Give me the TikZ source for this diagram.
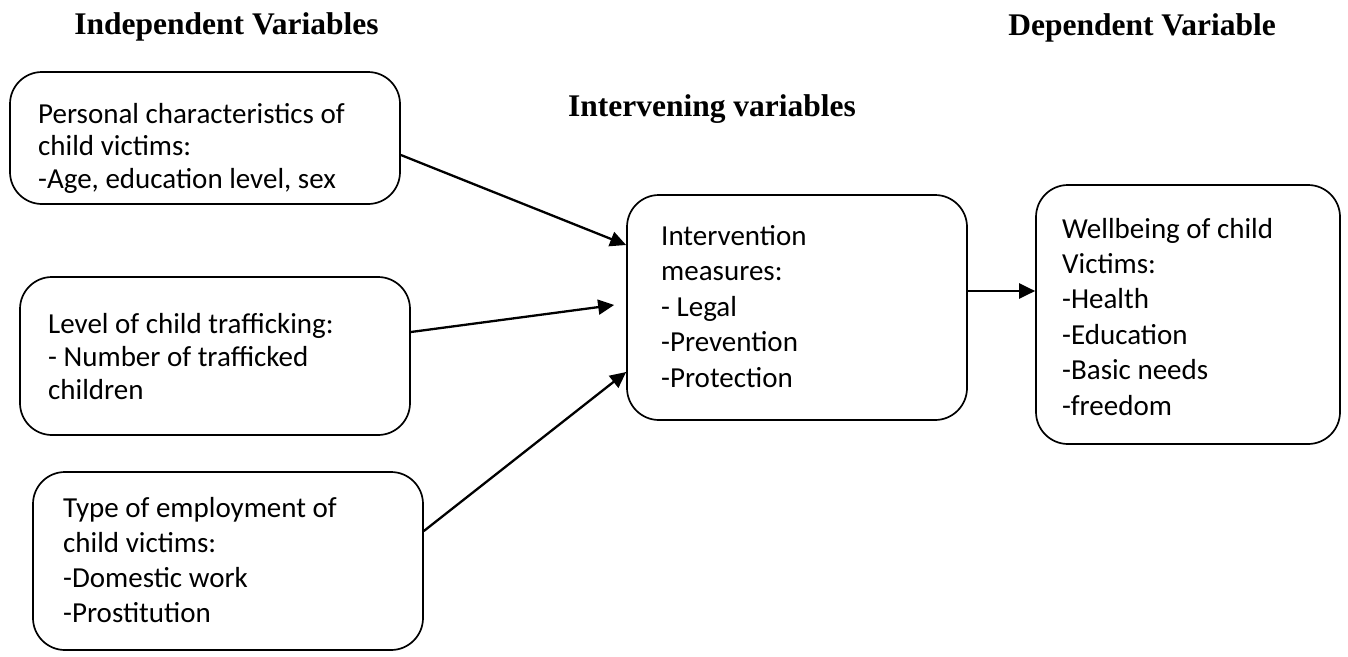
\documentclass[tikz,border=0pt]{standalone}
\usepackage{fontspec}
\setmainfont{Carlito}
\newfontfamily\headfont{Liberation Serif}
\usetikzlibrary{arrows.meta}
\begin{document}
\begin{tikzpicture}[x=1pt,y=-1pt,
  box/.style={draw=black,line width=1.7pt,rounded corners=32pt,inner sep=0pt},
  body/.style={anchor=base west,inner sep=0pt,align=left,font=\fontsize{29}{#1}\selectfont},
  body/.default=34.5,
  head/.style={anchor=base,inner sep=0pt,font=\headfont\bfseries\fontsize{31.5}{36}\selectfont},
  conn/.style={line width=2.3pt,-{Triangle[length=16pt,width=15pt]}}]
\useasboundingbox (0,0) rectangle (1348,656);
% headings
\node[head] (h1) at (226.5,34) {Independent Variables};
\node[head] (h2) at (1142,35) {Dependent Variable};
\node[head] (h3) at (712,116) {Intervening variables};
% boxes
\node[box,minimum width=390pt,minimum height=132pt] (b1) at (205,138) {};
\node[box,minimum width=390pt,minimum height=158pt] (b2) at (215,356) {};
\node[box,minimum width=390pt,minimum height=178pt] (b3) at (228,561) {};
\node[box,minimum width=340pt,minimum height=225pt] (b4) at (797,307.5) {};
\node[box,minimum width=304pt,minimum height=259pt] (b5) at (1188,314.5) {};
% texts (anchored at the baseline of their last line)
\node[body=32.5] (t1) at (38,188) {Personal characteristics of\\child victims:\\-Age, education level, sex};
\node[body=33] (t2) at (48,399) {Level of child trafficking:\\- Number of trafficked\\children};
\node[body=35] (t3) at (63,622) {Type of employment of\\child victims:\\-Domestic work\\-Prostitution};
\node[body=35.5] (t4) at (661,387) {Intervention\\measures:\\- Legal\\-Prevention\\-Protection};
\node[body=35.4] (t5) at (1062,415) {Wellbeing of child\\Victims:\\-Health\\-Education\\-Basic needs\\-freedom};
% connectors
\draw[conn] ([yshift=-17pt]b1.east) -- ([yshift=62.5pt]b4.west);
\draw[conn] ([yshift=24pt]b2.east) -- ([xshift=-12pt,yshift=2.5pt]b4.west);
\draw[conn] ([yshift=30pt]b3.east) -- ([yshift=-64.5pt]b4.west);
\draw[conn] ([yshift=16.5pt]b4.east) -- ([yshift=23.5pt]b5.west);
\end{tikzpicture}
\end{document}
